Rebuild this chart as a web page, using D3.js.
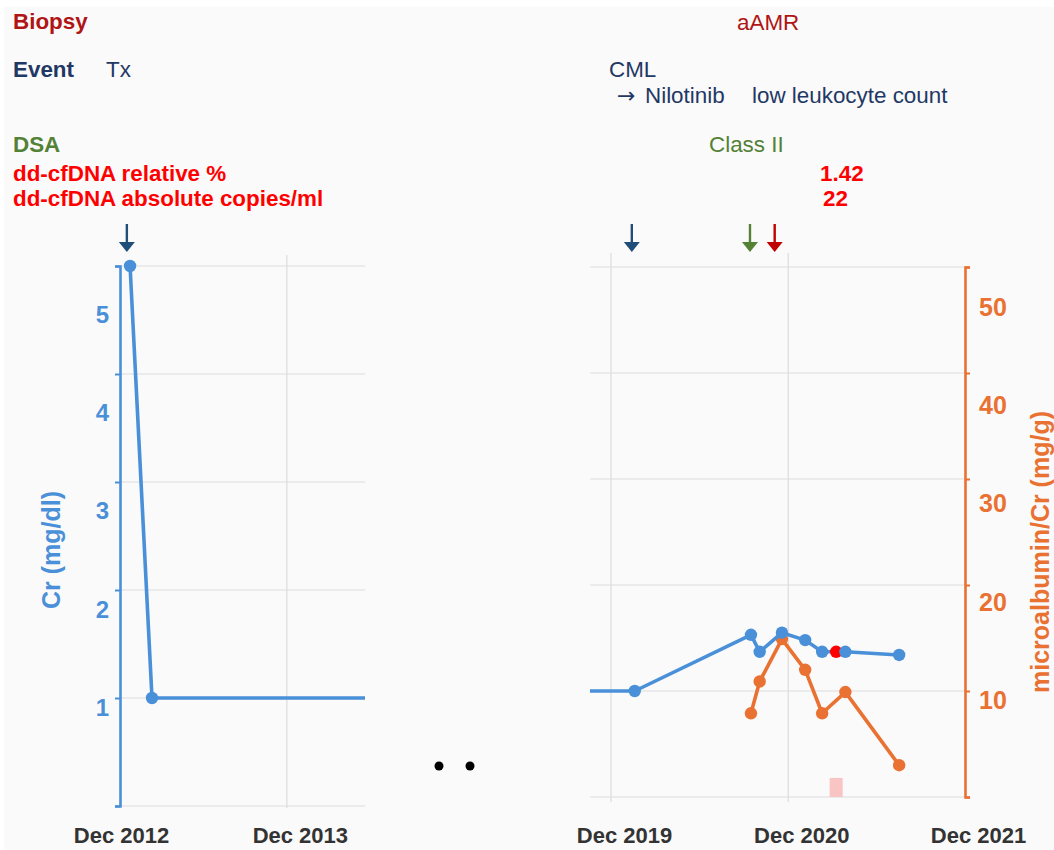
<!DOCTYPE html>
<html><head><meta charset="utf-8">
<script src="https://cdn.jsdelivr.net/npm/d3@7"></script>
<style>
body{margin:0;background:#fff}
svg{display:block;font-family:"Liberation Sans",Arial,Helvetica,sans-serif}
</style>
</head><body>
<svg id="chart" width="1054" height="850"></svg>
<script>
// ---------------- data ----------------
const crDates   = ["2012-12-23","2013-02-09","2020-01-19","2020-09-15","2020-10-03","2020-11-18","2021-01-05","2021-02-09","2021-03-10","2021-03-29","2021-07-18"];
const crValues  = [5.0, 1.0, 1.0, 1.53, 1.37, 1.55, 1.48, 1.37, 1.37, 1.37, 1.34];
const crHighlightDates = ["2021-03-10"];

const albDates  = ["2020-09-15","2020-10-03","2020-11-18","2021-01-05","2021-02-09","2021-03-29","2021-07-18"];
const albValues = [7.9, 10.9, 14.9, 12.0, 7.9, 9.9, 3.0];

const cfDnaDates    = ["2021-03-10"];
const cfDnaBar      = [1.8];
const cfDnaRelative = [1.42];
const cfDnaAbsolute = [22];

const eventDates = ["2012-12-16","2020-01-13","2020-09-13","2020-11-03"];
const eventKinds = ["event","event","dsa","biopsy"];

const crTicks  = [0,1,2,3,4,5];
const albTicks = [0,10,20,30,40,50];
const leftXTicks  = ["2012-12-01","2013-12-01"];
const rightXTicks = ["2019-12-01","2020-12-01","2021-12-01"];

// ---------------- setup ----------------
const parse = d3.utcParse("%Y-%m-%d");
const fmt = d3.utcFormat("%b %Y");
const BLUE = "#4A90D9", ORANGE = "#E97132", GRID = "#DCDCDC";
const FONT = "'Liberation Sans',Arial,sans-serif";
const svg = d3.select("#chart");

svg.append("rect").attr("x",4).attr("y",7).attr("width",1050).attr("height",843).attr("fill","#FAFAFA");

// scales
const xLeft  = d3.scaleUtc().domain([parse("2012-12-01"), parse("2014-05-21")]).range([120, 365]);
const xRight = d3.scaleUtc().domain([parse("2019-12-01"), parse("2021-12-01")]).range([611, 965]);
const rightX0 = 590;
const yLeft  = d3.scaleLinear().domain([0,5]).range([806,266]);
const yLeftLabel = d3.scaleLinear().domain([0,5]).range([805,314]);
const yCrR   = d3.scaleLinear().domain([0,5]).range([797,267]);
const yAlb   = d3.scaleLinear().domain([0,50]).range([797,267]);
const yAlbLabel = d3.scaleLinear().domain([0,50]).range([798,306]);

// clip paths
const defs = svg.append("defs");
defs.append("clipPath").attr("id","clipL").append("rect").attr("x",120).attr("y",250).attr("width",245).attr("height",570);
defs.append("clipPath").attr("id","clipR").append("rect").attr("x",rightX0).attr("y",250).attr("width",965-rightX0).attr("height",570);

// ---------------- gridlines ----------------
const g = svg.append("g");
g.selectAll(".hgL").data(crTicks).join("line")
  .attr("x1",120).attr("x2",365).attr("y1",d=>yLeft(d)).attr("y2",d=>yLeft(d))
  .attr("stroke",GRID).attr("stroke-width",1.2);
g.selectAll(".vgL").data(leftXTicks.slice(1)).join("line")
  .attr("x1",d=>xLeft(parse(d))).attr("x2",d=>xLeft(parse(d))).attr("y1",255).attr("y2",808)
  .attr("stroke",GRID).attr("stroke-width",1.2);
g.selectAll(".hgR").data(albTicks).join("line")
  .attr("x1",rightX0).attr("x2",965).attr("y1",d=>yAlb(d)).attr("y2",d=>yAlb(d))
  .attr("stroke",GRID).attr("stroke-width",1.2);
g.selectAll(".vgR").data(rightXTicks.slice(0,-1)).join("line")
  .attr("x1",d=>xRight(parse(d))).attr("x2",d=>xRight(parse(d))).attr("y1",253).attr("y2",802)
  .attr("stroke",GRID).attr("stroke-width",1.2);

// ---------------- series ----------------
const crData = crDates.map((d,i)=>({date:parse(d), v:crValues[i], hl: crHighlightDates.includes(d)}));
const albData = albDates.map((d,i)=>({date:parse(d), v:albValues[i]}));

function drawCr(xs, ys, clip){
  const layer = svg.append("g").attr("clip-path",`url(#${clip})`);
  layer.append("path").datum(crData)
    .attr("d", d3.line().x(d=>xs(d.date)).y(d=>ys(d.v)))
    .attr("fill","none").attr("stroke",BLUE).attr("stroke-width",3.6).attr("stroke-linejoin","round");
  layer.selectAll("circle").data(crData).join("circle")
    .attr("cx",d=>xs(d.date)).attr("cy",d=>ys(d.v)).attr("r",6.2)
    .attr("fill",d=>d.hl ? "#FF0000" : BLUE);
  return layer;
}
drawCr(xLeft, yLeft, "clipL");
const rLayer = drawCr(xRight, yCrR, "clipR");

// cfDNA bar
svg.append("g").selectAll("rect").data(cfDnaDates.map((d,i)=>({date:parse(d), v:cfDnaBar[i]}))).join("rect")
  .attr("x",d=>xRight(d.date)-6.5).attr("width",13)
  .attr("y",d=>yAlb(d.v)).attr("height",d=>yAlb(0)-yAlb(d.v))
  .attr("fill","#F8C4C4");

// microalbumin line
const aLayer = svg.append("g").attr("clip-path","url(#clipR)");
aLayer.append("path").datum(albData)
  .attr("d", d3.line().x(d=>xRight(d.date)).y(d=>yAlb(d.v)))
  .attr("fill","none").attr("stroke",ORANGE).attr("stroke-width",3.6).attr("stroke-linejoin","round");
aLayer.selectAll("circle").data(albData).join("circle")
  .attr("cx",d=>xRight(d.date)).attr("cy",d=>yAlb(d.v)).attr("r",6.2).attr("fill",ORANGE);

rLayer.raise();

// ---------------- axes ----------------
const axL = svg.append("g").attr("transform","translate(120,0)")
  .call(d3.axisLeft(yLeft).tickValues(crTicks).tickSize(5).tickSizeOuter(5).tickFormat(d=>d===0?"":d));
axL.attr("font-size",null).attr("font-family",null);
axL.select(".domain").attr("stroke",BLUE).attr("stroke-width",2.6);
axL.selectAll(".tick line").attr("stroke",BLUE).attr("stroke-width",2);
axL.selectAll(".tick text").attr("fill",BLUE).style("font-size","24px").attr("font-weight","bold")
  .attr("font-family",FONT)
  .attr("x",-11).attr("dy",d=>(yLeftLabel(d)-yLeft(d))+"px").attr("dominant-baseline","central");

const axR = svg.append("g").attr("transform","translate(965,0)")
  .call(d3.axisRight(yAlb).tickValues(albTicks).tickSize(5).tickSizeOuter(5).tickFormat(d=>d===0?"":d));
axR.attr("font-size",null).attr("font-family",null);
axR.select(".domain").attr("stroke",ORANGE).attr("stroke-width",2.6);
axR.selectAll(".tick line").attr("stroke",ORANGE).attr("stroke-width",2);
axR.selectAll(".tick text").attr("fill",ORANGE).style("font-size","25px").attr("font-weight","bold")
  .attr("font-family",FONT)
  .attr("x",14).attr("dy",d=>(yAlbLabel(d)-yAlb(d))+"px").attr("dominant-baseline","central");

function bottomAxis(xs, ticks, dxFn){
  const ax = svg.append("g").attr("transform","translate(0,843)")
    .call(d3.axisBottom(xs).tickValues(ticks.map(parse)).tickFormat(fmt).tickSize(0));
  ax.attr("font-size",null).attr("font-family",null);
  ax.select(".domain").remove();
  ax.selectAll(".tick text").attr("y",0).attr("dy",0)
    .attr("dx",dxFn)
    .attr("fill","#333").style("font-size","22px").attr("font-weight","bold")
    .attr("font-family",FONT);
}
bottomAxis(xLeft, leftXTicks, (d,i)=> i===0 ? 1 : 13);
bottomAxis(xRight, rightXTicks, ()=> 13);

// axis titles
svg.append("text").attr("transform","translate(60,550) rotate(-90)").attr("text-anchor","middle")
  .attr("fill",BLUE).attr("font-size",25).attr("font-weight","bold").text("Cr (mg/dl)");
svg.append("text").attr("transform","translate(1049,552) rotate(-90)").attr("text-anchor","middle")
  .attr("fill",ORANGE).attr("font-size",25).attr("font-weight","bold").text("microalbumin/Cr (mg/g)");

// ---------------- event arrows ----------------
const arrowColor = {event:"#1F4E79", dsa:"#548235", biopsy:"#C00000"};
const arrows = svg.append("g").selectAll("g").data(eventDates.map((d,i)=>({date:parse(d), kind:eventKinds[i]}))).join("g")
  .attr("transform",d=>{
    const x = d.date <= xLeft.domain()[1] ? xLeft(d.date) : xRight(d.date);
    return `translate(${x},0)`;
  });
arrows.append("line").attr("x1",0).attr("x2",0).attr("y1",224).attr("y2",244)
  .attr("stroke",d=>arrowColor[d.kind]).attr("stroke-width",2.4);
arrows.append("path").attr("d","M-8,242 L8,242 L0,252 Z").attr("fill",d=>arrowColor[d.kind]);

// ---------------- header text ----------------
const hdr = svg.append("g").attr("font-size",22.4);
function t(x,y,txt,color,bold,family,size){
  const el = hdr.append("text").attr("x",x).attr("y",y).attr("fill",color)
    .attr("font-weight",bold?"bold":"normal").text(txt);
  if (family) el.attr("font-family",family);
  if (size) el.attr("font-size",size);
}
t(13,29,"Biopsy","#B01515",true);
t(737,30,"aAMR","#B01515",false);
t(13,77,"Event","#1F3864",true);
t(106,77,"Tx","#1F3864",false);
t(609,77,"CML","#1F3864",false);
t(617,103,"\u2192","#1F3864",false,"'DejaVu Sans',sans-serif",22);
t(645,103,"Nilotinib","#1F3864",false);
t(752,103,"low leukocyte count","#1F3864",false);
t(13,152,"DSA","#538135",true);
t(709,152,"Class II","#538135",false);
t(13,181,"dd-cfDNA relative %","#FF0000",true);
t(13,206,"dd-cfDNA absolute copies/ml","#FF0000",true);
hdr.selectAll(".rel").data(cfDnaRelative).join("text").attr("x",820).attr("y",181)
  .attr("fill","#FF0000").attr("font-weight","bold").text(d=>d.toFixed(2));
hdr.selectAll(".abs").data(cfDnaAbsolute).join("text").attr("x",823).attr("y",206)
  .attr("fill","#FF0000").attr("font-weight","bold").text(d=>d);

// break marks between panels
svg.append("g").selectAll("circle").data([0,1]).join("circle")
  .attr("cx",d=>439+d*31).attr("cy",766).attr("r",4.5).attr("fill","#000");
</script>
</body></html>
